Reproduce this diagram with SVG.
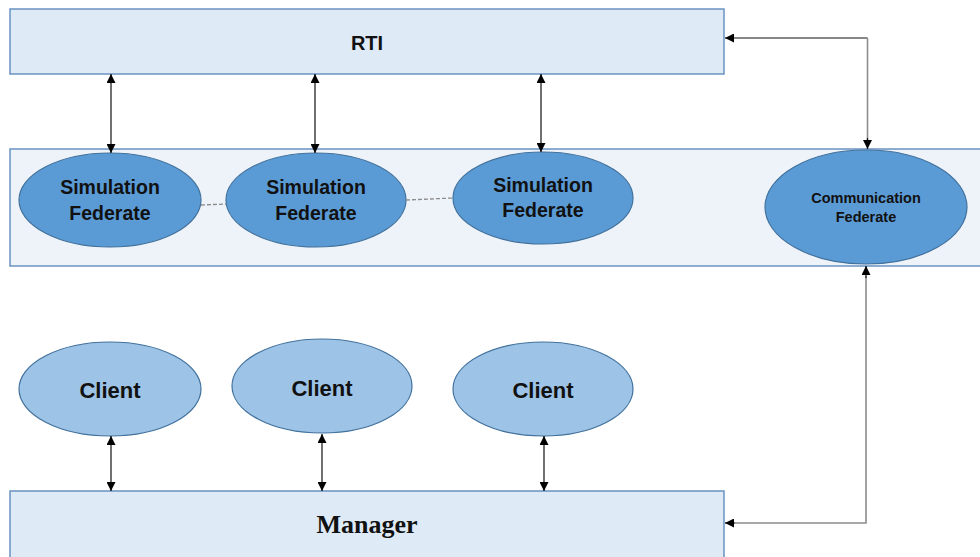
<svg xmlns="http://www.w3.org/2000/svg" width="980" height="557" viewBox="0 0 980 557">
  <style>
    .box { fill: #DEEAF6; stroke: #6A93C2; stroke-width: 1.5; }
    .band { fill: #EEF3FA; stroke: #6A93C2; stroke-width: 1.5; }
    .fed { fill: #5B9BD5; stroke: #41719C; stroke-width: 1.2; }
    .cli { fill: #9DC3E6; stroke: #41719C; stroke-width: 1.2; }
    .lbl { font-family: "Liberation Sans", Arial, sans-serif; font-weight: bold; fill: #111; text-anchor: middle; }
    .mgr { font-family: "Liberation Serif", "Times New Roman", serif; font-weight: bold; fill: #111; text-anchor: middle; }
    .link { stroke: #111; stroke-width: 1.2; fill: none; }
    .glink { stroke: #8C8C8C; stroke-width: 1.6; fill: none; }
    .dash { stroke: #8C8C8C; stroke-width: 1.3; stroke-dasharray: 4 2; fill: none; }
  </style>
  <defs>
    <marker id="ah" viewBox="0 0 10 10" refX="10" refY="5" markerWidth="9" markerHeight="9" markerUnits="userSpaceOnUse" orient="auto-start-reverse">
      <path d="M0,0 L10,5 L0,10 Z" fill="#000"/>
    </marker>
  </defs>

  <!-- federation band -->
  <rect id="federation" class="band" x="10" y="149" width="980" height="117"/>

  <g id="rti">
    <rect class="box" x="10" y="9" width="714" height="65"/>
    <text class="lbl" x="367" y="50" font-size="20">RTI</text>
  </g>

  <g id="manager">
    <rect class="box" x="10" y="491" width="714" height="70"/>
    <text class="mgr" x="367" y="533" font-size="26">Manager</text>
  </g>

  <g id="simfed1">
    <ellipse class="fed" cx="110" cy="200" rx="91" ry="47"/>
    <text class="lbl" x="110" y="194" font-size="19.5">Simulation</text>
    <text class="lbl" x="110" y="220" font-size="19.5">Federate</text>
  </g>
  <g id="simfed2">
    <ellipse class="fed" cx="316" cy="200" rx="90" ry="47"/>
    <text class="lbl" x="316" y="194" font-size="19.5">Simulation</text>
    <text class="lbl" x="316" y="220" font-size="19.5">Federate</text>
  </g>
  <g id="simfed3">
    <ellipse class="fed" cx="543" cy="198" rx="90" ry="46"/>
    <text class="lbl" x="543" y="192" font-size="19.5">Simulation</text>
    <text class="lbl" x="543" y="217" font-size="19.5">Federate</text>
  </g>
  <g id="commfed">
    <ellipse class="fed" cx="866" cy="207" rx="101" ry="57"/>
    <text class="lbl" x="866" y="203" font-size="14.5">Communication</text>
    <text class="lbl" x="866" y="222" font-size="14.5">Federate</text>
  </g>

  <g id="client1">
    <ellipse class="cli" cx="110" cy="389" rx="91" ry="47"/>
    <text class="lbl" x="110" y="398" font-size="22">Client</text>
  </g>
  <g id="client2">
    <ellipse class="cli" cx="322" cy="386" rx="90" ry="47"/>
    <text class="lbl" x="322" y="396" font-size="22">Client</text>
  </g>
  <g id="client3">
    <ellipse class="cli" cx="543" cy="389" rx="90" ry="47"/>
    <text class="lbl" x="543" y="398" font-size="22">Client</text>
  </g>

  <g id="connectors">
    <!-- RTI to simulation federates -->
    <line class="link" x1="111" y1="74" x2="111" y2="153" marker-start="url(#ah)" marker-end="url(#ah)"/>
    <line class="link" x1="315" y1="74" x2="315" y2="153" marker-start="url(#ah)" marker-end="url(#ah)"/>
    <line class="link" x1="541" y1="74" x2="541" y2="152" marker-start="url(#ah)" marker-end="url(#ah)"/>
    <!-- RTI to communication federate -->
    <polyline class="link" points="725,38 867.5,38" marker-start="url(#ah)"/>
    <polyline class="glink" points="867.5,38 867.5,142"/>
    <line class="link" x1="867.5" y1="138" x2="867.5" y2="149" marker-end="url(#ah)"/>
    <!-- communication federate to manager -->
    <polyline class="glink" points="866,276 866,523 735,523"/>
    <line class="link" x1="866" y1="278" x2="866" y2="266" marker-end="url(#ah)"/>
    <line class="link" x1="735" y1="523" x2="725" y2="523" marker-end="url(#ah)"/>
    <!-- federate peer links -->
    <line class="dash" x1="201" y1="205" x2="226" y2="204"/>
    <line class="dash" x1="406" y1="200" x2="453" y2="198"/>
    <!-- clients to manager -->
    <line class="link" x1="111" y1="436" x2="111" y2="491" marker-start="url(#ah)" marker-end="url(#ah)"/>
    <line class="link" x1="322" y1="434" x2="322" y2="491" marker-start="url(#ah)" marker-end="url(#ah)"/>
    <line class="link" x1="544" y1="436" x2="544" y2="491" marker-start="url(#ah)" marker-end="url(#ah)"/>
  </g>
</svg>
